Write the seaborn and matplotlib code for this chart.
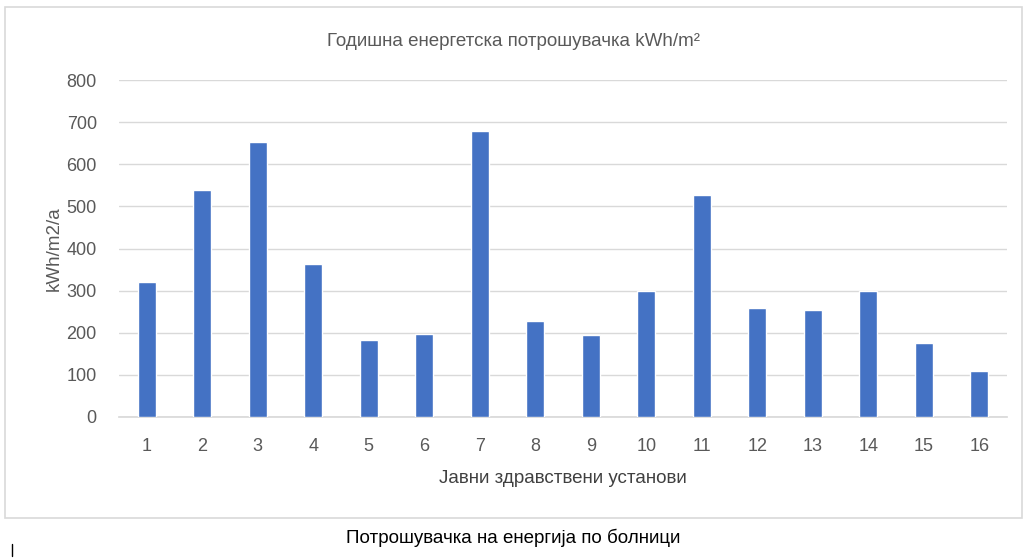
import pandas as pd
import seaborn as sns
import matplotlib.pyplot as plt
from matplotlib.patches import Rectangle
from matplotlib.lines import Line2D

# Податоци
bolnici = [str(i) for i in range(1, 17)]
potrosuvacka = [320, 538, 652, 363, 182, 198, 679, 228, 194, 298, 527, 258, 255, 298, 176, 109]
y_ticks = [0, 100, 200, 300, 400, 500, 600, 700, 800]

df = pd.DataFrame({"Bolnica": bolnici, "Potrosuvacka": potrosuvacka})

sns.set_theme(style="white")
plt.rcParams['font.family'] = ['Liberation Sans', 'DejaVu Sans']

fig = plt.figure(figsize=(10.27, 5.58), dpi=100)
ax = fig.add_axes([0.1159, 0.2527, 0.8646, 0.6039])

sns.barplot(data=df, x="Bolnica", y="Potrosuvacka", order=bolnici,
            color="#4472C4", saturation=1, width=0.32, ax=ax, zorder=3)

ax.set_ylim(0, 800)
ax.set_yticks(y_ticks)
ax.yaxis.grid(True, color="#D9D9D9", linewidth=1, zorder=0)
ax.set_axisbelow(True)
for s in ["top", "right", "left"]:
    ax.spines[s].set_visible(False)
ax.spines["bottom"].set_color("#D9D9D9")
ax.tick_params(axis="both", length=0, labelsize=13, colors="#595959")
ax.tick_params(axis="x", pad=15)
ax.tick_params(axis="y", pad=16)

ax.set_xlabel("Јавни здравствени установи", fontsize=13.5, color="#404040", labelpad=11)
ax.set_ylabel("kWh/m2/a", fontsize=13.5, color="#595959", labelpad=3)

fig.text(0.5, 0.925, "Годишна енергетска потрошувачка kWh/m²", ha="center", va="center",
         fontsize=13.5, color="#595959")

# рамка околу графиконот
fig.patches.append(Rectangle((5 / 1027, 1 - 518 / 558), 1017 / 1027, 511 / 558,
                             transform=fig.transFigure, fill=False,
                             edgecolor="#D9D9D9", linewidth=1.2))

fig.text(0.5, 1 - 538 / 558, "Потрошувачка на енергија по болници", ha="center", va="center",
         fontsize=13.5, color="#000000")

# мала вертикална црта долу лево
fig.lines.append(Line2D([12 / 1027, 12 / 1027], [1 - 544 / 558, 1 - 556 / 558],
                        transform=fig.transFigure, color="#000000", linewidth=1))

fig.savefig("out.png", dpi=100)
